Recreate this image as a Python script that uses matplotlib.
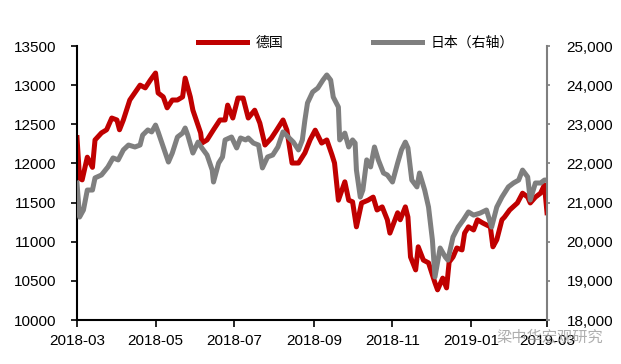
import matplotlib
matplotlib.use("Agg")
import matplotlib.pyplot as plt
import matplotlib.dates as mdates
import matplotlib.ticker as mticker
import pandas as pd

# 德国 (left axis)
de_dates = ["2018-03-01", "2018-03-03", "2018-03-05", "2018-03-09", "2018-03-13", "2018-03-15",
            "2018-03-20", "2018-03-24", "2018-03-28", "2018-04-01", "2018-04-03", "2018-04-06",
            "2018-04-11", "2018-04-19", "2018-04-23", "2018-04-27", "2018-05-01", "2018-05-03",
            "2018-05-07", "2018-05-10", "2018-05-14", "2018-05-18", "2018-05-22", "2018-05-24",
            "2018-05-28", "2018-05-30", "2018-06-05", "2018-06-06", "2018-06-10", "2018-06-15",
            "2018-06-20", "2018-06-24", "2018-06-26", "2018-06-30", "2018-07-04", "2018-07-08",
            "2018-07-12", "2018-07-17", "2018-07-21", "2018-07-25", "2018-07-30", "2018-08-03",
            "2018-08-08", "2018-08-11", "2018-08-15", "2018-08-20", "2018-08-25", "2018-08-29",
            "2018-09-02", "2018-09-07", "2018-09-11", "2018-09-15", "2018-09-17", "2018-09-20",
            "2018-09-25", "2018-09-28", "2018-10-01", "2018-10-04", "2018-10-08", "2018-10-13",
            "2018-10-17", "2018-10-20", "2018-10-24", "2018-10-28", "2018-10-30", "2018-11-05",
            "2018-11-07", "2018-11-11", "2018-11-13", "2018-11-15", "2018-11-19", "2018-11-21",
            "2018-11-25", "2018-11-29", "2018-12-04", "2018-12-06", "2018-12-10", "2018-12-13",
            "2018-12-15", "2018-12-18", "2018-12-21", "2018-12-25", "2018-12-27", "2018-12-30",
            "2019-01-03", "2019-01-06", "2019-01-10", "2019-01-16", "2019-01-18", "2019-01-21",
            "2019-01-25", "2019-01-27", "2019-01-31", "2019-02-06", "2019-02-10", "2019-02-14",
            "2019-02-16", "2019-02-20", "2019-02-24", "2019-02-27", "2019-03-01"]
de_values = [12330, 11810, 11790, 12080, 11950, 12300,
             12390, 12430, 12580, 12555, 12430, 12555,
             12810, 13000, 12965, 13065, 13155, 12900,
             12850, 12710, 12810, 12810, 12850, 13090,
             12850, 12680, 12390, 12260, 12300, 12430,
             12555, 12555, 12745, 12580, 12835, 12835,
             12580, 12680, 12515, 12235, 12325, 12425,
             12555, 12425, 12005, 12005, 12135, 12300,
             12425, 12260, 12300, 12110, 12005, 11530,
             11765, 11530, 11510, 11190, 11495, 11530,
             11570, 11405, 11445, 11280, 11110, 11370,
             11280, 11445, 11315, 10805, 10640, 10935,
             10765, 10730, 10475, 10385, 10535, 10410,
             10740, 10805, 10920, 10895, 11110, 11190,
             11150, 11280, 11240, 11190, 10935, 11025,
             11280, 11315, 11405, 11495, 11620, 11570,
             11495, 11570, 11620, 11725, 11370]

# 日本 (right axis)
jp_dates = ["2018-03-01", "2018-03-03", "2018-03-06", "2018-03-09", "2018-03-13", "2018-03-15",
            "2018-03-20", "2018-03-25", "2018-03-29", "2018-04-02", "2018-04-06", "2018-04-10",
            "2018-04-15", "2018-04-19", "2018-04-21", "2018-04-25", "2018-04-28", "2018-05-01",
            "2018-05-03", "2018-05-07", "2018-05-11", "2018-05-14", "2018-05-18", "2018-05-22",
            "2018-05-24", "2018-05-26", "2018-05-30", "2018-06-03", "2018-06-06", "2018-06-10",
            "2018-06-14", "2018-06-15", "2018-06-19", "2018-06-22", "2018-06-24", "2018-06-29",
            "2018-07-03", "2018-07-06", "2018-07-10", "2018-07-12", "2018-07-16", "2018-07-20",
            "2018-07-23", "2018-07-27", "2018-07-31", "2018-08-04", "2018-08-08", "2018-08-12",
            "2018-08-16", "2018-08-20", "2018-08-23", "2018-08-25", "2018-08-27", "2018-08-31",
            "2018-09-04", "2018-09-08", "2018-09-11", "2018-09-14", "2018-09-16", "2018-09-20",
            "2018-09-21", "2018-09-25", "2018-09-28", "2018-10-01", "2018-10-03", "2018-10-04",
            "2018-10-07", "2018-10-09", "2018-10-12", "2018-10-15", "2018-10-18", "2018-10-21",
            "2018-10-25", "2018-10-28", "2018-11-01", "2018-11-05", "2018-11-08", "2018-11-11",
            "2018-11-13", "2018-11-16", "2018-11-20", "2018-11-22", "2018-11-26", "2018-11-29",
            "2018-12-02", "2018-12-04", "2018-12-08", "2018-12-12", "2018-12-14", "2018-12-18",
            "2018-12-22", "2018-12-26", "2018-12-30", "2019-01-03", "2019-01-08", "2019-01-13",
            "2019-01-17", "2019-01-21", "2019-01-25", "2019-01-30", "2019-02-03", "2019-02-07",
            "2019-02-10", "2019-02-14", "2019-02-16", "2019-02-20", "2019-02-24", "2019-02-27",
            "2019-03-01"]
jp_values = [21500, 20630, 20810, 21320, 21320, 21630,
             21705, 21910, 22140, 22090, 22345, 22470,
             22420, 22470, 22725, 22855, 22805, 22980,
             22805, 22420, 22035, 22265, 22675, 22775,
             22905, 22725, 22265, 22545, 22395, 22215,
             21830, 21525, 22010, 22165, 22600, 22675,
             22395, 22650, 22600, 22650, 22520, 22470,
             21885, 22165, 22215, 22420, 22805, 22675,
             22545, 22345, 22600, 23110, 23545, 23825,
             23925, 24130, 24260, 24130, 23695, 23440,
             22600, 22775, 22420, 22600, 22520, 21830,
             21140, 21320, 22090, 21910, 22420, 22090,
             21755, 21705, 21525, 22010, 22345, 22545,
             22395, 21575, 21400, 21755, 21320, 20885,
             20045, 19100, 19840, 19610, 19530, 20120,
             20375, 20555, 20760, 20680, 20730, 20810,
             20375, 20885, 21140, 21400, 21500, 21575,
             21830, 21655, 21065, 21500, 21500, 21575,
             21575]

RED = "#C00000"
GRAY = "#7F7F7F"

plt.rcParams["font.family"] = ["Liberation Sans", "Noto Sans CJK SC", "DejaVu Sans"]

fig = plt.figure(figsize=(6.21, 3.64), dpi=100)
ax = fig.add_axes([77 / 621, 1 - 320 / 364, 470 / 621, 274 / 364])
ax2 = ax.twinx()

l1, = ax.plot(pd.to_datetime(de_dates), de_values, color=RED, lw=3.6,
              solid_joinstyle="round", label="德国")
l2, = ax2.plot(pd.to_datetime(jp_dates), jp_values, color=GRAY, lw=3.6,
               solid_joinstyle="round", label="日本（右轴）")

ax.set_xlim(pd.Timestamp("2018-03-01"), pd.Timestamp("2019-03-01"))
ax.set_ylim(10000, 13500)
ax.set_yticks(range(10000, 13501, 500))
ax2.set_ylim(18000, 25000)
ax2.set_yticks(range(18000, 25001, 1000))
ax2.yaxis.set_major_formatter(mticker.FuncFormatter(lambda v, p: f"{int(v):,}"))

ax.xaxis.set_major_locator(mdates.MonthLocator(bymonth=[1, 3, 5, 7, 9, 11]))
ax.xaxis.set_major_formatter(mdates.DateFormatter("%Y-%m"))

for a in (ax, ax2):
    a.spines["top"].set_visible(False)
ax.spines["right"].set_visible(False)
ax2.spines["left"].set_visible(False)
ax2.spines["bottom"].set_visible(False)
ax.spines["left"].set_linewidth(1.5)
ax.spines["bottom"].set_linewidth(1.5)
ax2.spines["right"].set_color(GRAY)
ax2.spines["right"].set_linewidth(1.5)

ax.tick_params(axis="y", direction="out", length=4, width=1.2, labelsize=11, pad=11)
ax.tick_params(axis="x", direction="out", length=5, width=1.2, labelsize=11, pad=5)
ax2.tick_params(axis="y", direction="out", length=2, width=1.2, color=GRAY,
                labelsize=11, pad=12)

ax2.set_zorder(ax.get_zorder() + 1)
ax2.patch.set_visible(False)
ax.set_zorder(0)

leg = fig.legend(handles=[l1, l2], loc="center", bbox_to_anchor=(356 / 621, 1 - 43 / 364),
                 ncol=2, frameon=False, handlelength=3.5, handletextpad=0.6,
                 columnspacing=6.5, prop={"family": "Noto Sans CJK SC", "size": 10})

# watermark
fig.text(550 / 621, 1 - 337 / 364, "梁中华宏观研究", ha="center", va="center",
         fontsize=11, color="#9a9a9a", alpha=0.8, family="Noto Sans CJK SC")

fig.savefig("out.png", dpi=100)
